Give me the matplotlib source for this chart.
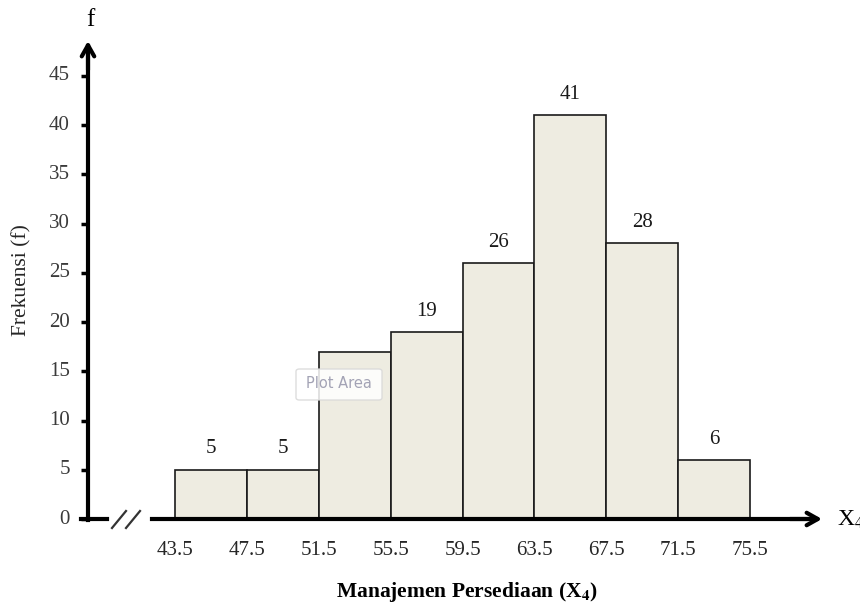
import matplotlib
matplotlib.use("Agg")
import matplotlib.pyplot as plt
from matplotlib.patches import FancyBboxPatch

# Class boundaries and frequencies
edges = [43.5, 47.5, 51.5, 55.5, 59.5, 63.5, 67.5, 71.5, 75.5]
freqs = [5, 5, 17, 19, 26, 41, 28, 6]
shown_labels = [True, True, False, True, True, True, True, True]
yticks = [0, 5, 10, 15, 20, 25, 30, 35, 40, 45]

W, H = 860, 604
fig = plt.figure(figsize=(W / 100, H / 100), dpi=100)
plt.rcParams["font.family"] = ["Liberation Serif", "DejaVu Serif"]

# axes placed in pixel terms: y-axis at x=88px, baseline at y=519px
left_px, right_px, base_px, top_px = 88, 820, 519, 42
ax = fig.add_axes([left_px / W, (H - base_px) / H,
                   (right_px - left_px) / W, (base_px - top_px) / H])
px_per_unit_x = (750 - 175) / (75.5 - 43.5)
x0 = 43.5 - (175 - left_px) / px_per_unit_x
x1 = 43.5 + (right_px - 175) / px_per_unit_x
px_per_unit_y = (519 - 76) / 45
ax.set_xlim(x0, x1)
ax.set_ylim(0, (base_px - top_px) / px_per_unit_y)
ax.axis("off")

widths = [edges[i + 1] - edges[i] for i in range(len(freqs))]
ax.bar(edges[:-1], freqs, width=widths, align="edge",
       color="#EEECE1", edgecolor="#1a1a1a", linewidth=1.2, zorder=2)

for i, f in enumerate(freqs):
    if shown_labels[i]:
        ax.annotate(str(f), (edges[i] + widths[i] / 2, f), xytext=(0, 15),
                    textcoords="offset points", ha="center", va="center",
                    fontsize=15, color="#1a1a1a")

# x tick labels (class boundaries)
for e in edges:
    ax.annotate(f"{e:.1f}", (e, 0), xytext=(0, -23), textcoords="offset points",
                ha="center", va="center", fontsize=15, color="#262626",
                annotation_clip=False)

# y ticks and labels
for t in yticks:
    ax.plot([x0 - 7 / px_per_unit_x, x0], [t, t], color="black", lw=2.5,
            clip_on=False, solid_capstyle="butt", zorder=3)
    ax.annotate(str(t), (x0, t), xytext=(-13, 0), textcoords="offset points",
                ha="right", va="center", fontsize=15, color="#3a3a3a",
                annotation_clip=False)

tr = fig.transFigure
def fx(px):
    return px / W
def fy(py):
    return 1 - py / H

# y axis with open arrow head
fig.add_artist(plt.Line2D([fx(88), fx(88)], [fy(520), fy(46)], color="black",
                          lw=3, transform=tr))
ax.annotate("", xy=(fx(88), fy(41)), xytext=(fx(88), fy(70)), xycoords=tr,
            textcoords=tr, arrowprops=dict(arrowstyle="->,head_length=0.8,head_width=0.45",
                                           color="black", lw=3, shrinkA=0, shrinkB=0))

# x axis: short stub, break marks, then main axis with arrow
fig.add_artist(plt.Line2D([fx(81), fx(107)], [fy(519), fy(519)], color="black",
                          lw=3, transform=tr))
for sx in (112, 126):
    fig.add_artist(plt.Line2D([fx(sx), fx(sx + 14)], [fy(528), fy(511)],
                              color="#333333", lw=1.6, transform=tr))
fig.add_artist(plt.Line2D([fx(152), fx(816)], [fy(519), fy(519)], color="black",
                          lw=3, transform=tr))
ax.annotate("", xy=(fx(822), fy(519)), xytext=(fx(790), fy(519)), xycoords=tr,
            textcoords=tr, arrowprops=dict(arrowstyle="->,head_length=0.8,head_width=0.45",
                                           color="black", lw=3, shrinkA=0, shrinkB=0))

# axis symbols
fig.text(fx(90), fy(20), "f", ha="center", va="center", fontsize=18, color="black")
fig.text(fx(837), fy(520), r"X$_4$", ha="left", va="center", fontsize=17,
         color="black", math_fontfamily="stix")

# axis titles
fig.text(fx(22), fy(280), "Frekuensi (f)", rotation=90, ha="center", va="center",
         fontsize=15.5, color="#262626")
fig.text(fx(467), fy(592), r"Manajemen Persediaan (X$_\mathbf{4}$)", ha="center",
         va="center", fontsize=15.5, fontweight="bold", color="black",
         math_fontfamily="stix")

# hover tip
box = FancyBboxPatch((fx(296), fy(400)), fx(86), (31) / H,
                     boxstyle="round,pad=0,rounding_size=0.004", transform=tr,
                     facecolor="white", edgecolor="#d8d8d8", lw=1, alpha=0.85,
                     zorder=5)
fig.add_artist(box)
fig.text(fx(339), fy(384), "Plot Area", ha="center", va="center", fontsize=10.5,
         color="#a3a3b5", family="DejaVu Sans", zorder=6)

fig.savefig("out.png", dpi=100)
